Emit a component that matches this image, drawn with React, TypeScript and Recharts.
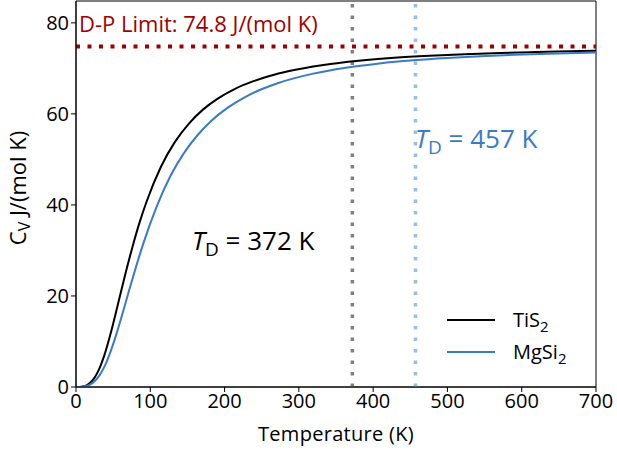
import React from "react";
import {
  LineChart,
  Line,
  XAxis,
  YAxis,
  ReferenceLine,
  ReferenceArea,
} from "recharts";

// temperatures (K) and heat capacities (J/(mol K))
const tempsTiS2 = [0, 4.8, 9.5, 14.3, 19, 23.8, 28.5, 33.3, 38.1, 42.8, 47.6, 57.1, 66.6, 76.1, 85.6, 95.2, 114.2, 133.2, 152.3, 171.3, 190.3, 214.1, 237.9, 261.7, 285.5, 333.1, 380.6, 428.2, 475.8, 523.4, 570.9, 618.5, 666.1, 700];
const cvTiS2 = [0, 0.01, 0.11, 0.38, 0.91, 1.77, 3.04, 4.77, 6.94, 9.5, 12.37, 18.6, 24.91, 30.83, 36.16, 40.81, 48.34, 53.85, 57.93, 60.99, 63.3, 65.5, 67.13, 68.38, 69.35, 70.74, 71.66, 72.31, 72.77, 73.12, 73.38, 73.59, 73.76, 73.85];
const tempsMgSi2 = [0, 4.5, 9.1, 13.6, 18.2, 22.7, 27.2, 31.8, 36.3, 40.9, 45.4, 54.5, 63.6, 72.6, 81.7, 90.8, 109, 127.1, 145.3, 163.5, 181.6, 204.3, 227, 249.7, 272.4, 317.8, 363.2, 408.6, 454, 499.5, 544.9, 590.3, 635.7, 700];
const cvMgSi2 = [0, 0.01, 0.06, 0.21, 0.49, 0.95, 1.65, 2.61, 3.87, 5.43, 7.28, 11.68, 16.68, 21.86, 26.89, 31.62, 39.8, 46.35, 51.37, 55.31, 58.4, 61.38, 63.65, 65.41, 66.79, 68.79, 70.14, 71.08, 71.77, 72.28, 72.67, 72.98, 73.23, 73.5];

const dpLimit = 74.8;
const tdTiS2 = 372;
const tdMgSi2 = 457;
const xTicks = [0, 100, 200, 300, 400, 500, 600, 700];
const yTicks = [0, 20, 40, 60, 80];

const dataTiS2 = tempsTiS2.map((t, i) => ({ t, cv: cvTiS2[i] }));
const dataMgSi2 = tempsMgSi2.map((t, i) => ({ t, cv: cvMgSi2[i] }));

const FONT = "'Open Sans', sans-serif";
const BLUE = "#3a7bc6";
const RED = "#a00000";

const legendItems = [
  { c: "#000", n: "TiS", s: "2" },
  { c: BLUE, n: "MgSi", s: "2" },
];

export default function App() {
  return (
    <div style={{ position: "absolute", left: 0, top: 0, width: 617, height: 453, background: "#fff" }}>
      <LineChart width={617} height={453} margin={{ top: 1, right: 21, bottom: 36, left: 0 }}>
        <XAxis
          dataKey="t"
          type="number"
          domain={[0, 700]}
          ticks={xTicks}
          allowDataOverflow
          height={30}
          tickSize={5}
          tickLine={{ stroke: "#000" }}
          axisLine={{ stroke: "#000" }}
          tick={{ fill: "#000", fontSize: 20, fontFamily: FONT }}
          label={{ value: "Temperature (K)", position: "insideBottom", offset: -24, fill: "#000", fontSize: 20, fontFamily: FONT, letterSpacing: 0.3 }}
        />
        <YAxis
          type="number"
          domain={[0, 84.8]}
          ticks={yTicks}
          allowDataOverflow
          width={76}
          tickSize={5}
          tickLine={{ stroke: "#000" }}
          axisLine={{ stroke: "#000" }}
          tick={{ fill: "#000", fontSize: 20, fontFamily: FONT }}
          label={(props: any) => {
            const vb = props.viewBox;
            const cx = 26;
            const cy = vb.y + vb.height / 2 - 6;
            return (
              <text
                x={cx}
                y={cy}
                transform={`rotate(-90 ${cx} ${cy})`}
                textAnchor="middle"
                fill="#000"
                fontSize={22}
                fontFamily={FONT}
              >
                C<tspan fontSize={16} dy={4}>V</tspan>
                <tspan dy={-4}> J/(mol K)</tspan>
              </text>
            );
          }}
        />
        <ReferenceArea x1={0} x2={700} y1={0} y2={84.8} fill="none" stroke="#000" strokeWidth={1} ifOverflow="visible" />
        <ReferenceLine
          y={dpLimit}
          stroke={RED}
          strokeWidth={4}
          strokeDasharray="4 7.5"
          label={{ value: "D-P Limit: 74.8 J/(mol K)", position: "insideTopLeft", offset: 0, dx: 3, dy: -30, fill: RED, fontSize: 22, fontFamily: FONT }}
        />
        <ReferenceLine x={tdTiS2} stroke="#808080" strokeWidth={3.5} strokeDasharray="3.5 8" />
        <ReferenceLine x={tdMgSi2} stroke="#99bde3" strokeWidth={3.5} strokeDasharray="3.5 8" />
        <Line data={dataTiS2} dataKey="cv" name="TiS2" type="monotone" stroke="#000" strokeWidth={2} dot={false} isAnimationActive={false} />
        <Line data={dataMgSi2} dataKey="cv" name="MgSi2" type="monotone" stroke={BLUE} strokeWidth={2} dot={false} isAnimationActive={false} />
        {legendItems.map((it, i) => (
          <g key={it.n}>
            <line x1={447} x2={495} y1={320 + i * 32} y2={320 + i * 32} stroke={it.c} strokeWidth={2} />
            <text x={513} y={327 + i * 32} fontSize={20} fontFamily={FONT} fill="#000">
              {it.n}
              <tspan fontSize={15} dy={5}>{it.s}</tspan>
            </text>
          </g>
        ))}
        <text x={192} y={250} fontSize={26} fontFamily={FONT} fill="#000">
          <tspan fontStyle="italic">T</tspan>
          <tspan fontSize={19} dy={6}>D</tspan>
          <tspan dy={-6}> = 372 K</tspan>
        </text>
        <text x={415} y={148} fontSize={26} fontFamily={FONT} fill={BLUE}>
          <tspan fontStyle="italic">T</tspan>
          <tspan fontSize={19} dy={6}>D</tspan>
          <tspan dy={-6}> = 457 K</tspan>
        </text>
      </LineChart>
    </div>
  );
}
